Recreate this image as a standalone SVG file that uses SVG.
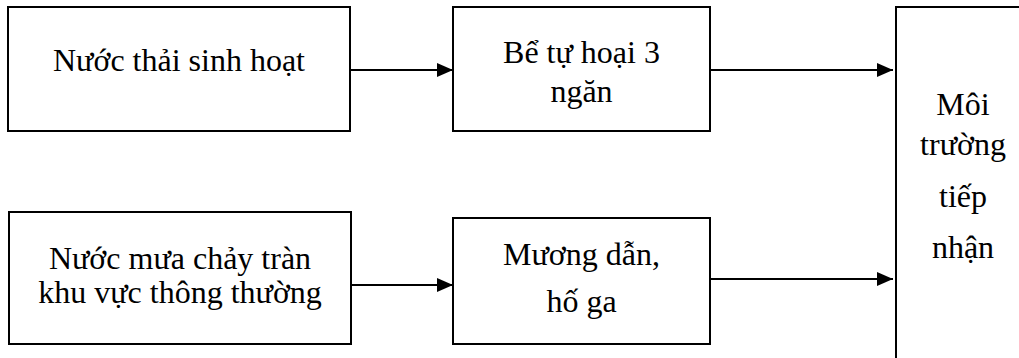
<svg xmlns="http://www.w3.org/2000/svg" width="1019" height="358" viewBox="0 0 1019 358">
  <style>
    .box { fill: #ffffff; stroke: #000000; stroke-width: 2; }
    .lbl { font-family: "Liberation Serif", "Times New Roman", serif; font-size: 32px; fill: #000000; text-anchor: middle; }
    .link { stroke: #000000; stroke-width: 2; fill: none; marker-end: url(#arrow); }
  </style>
  <defs>
    <marker id="arrow" markerUnits="userSpaceOnUse" markerWidth="16" markerHeight="14" refX="16" refY="7" orient="auto">
      <path d="M0,0 L16,7 L0,14 Z" fill="#000000"/>
    </marker>
  </defs>
  <rect width="1019" height="358" fill="#ffffff"/>

  <g id="nuoc-thai-sinh-hoat">
    <rect class="box" x="8" y="7" width="342" height="124"/>
    <text class="lbl" x="179" y="71">Nước thải sinh hoạt</text>
  </g>

  <g id="be-tu-hoai">
    <rect class="box" x="453" y="7" width="257" height="124"/>
    <text class="lbl" x="581.5" y="63">Bể tự hoại 3</text>
    <text class="lbl" x="581.5" y="102">ngăn</text>
  </g>

  <g id="nuoc-mua">
    <rect class="box" x="9" y="212" width="342" height="132"/>
    <text class="lbl" x="180" y="269">Nước mưa chảy tràn</text>
    <text class="lbl" x="180" y="303">khu vực thông thường</text>
  </g>

  <g id="muong-dan">
    <rect class="box" x="453" y="218" width="257" height="126"/>
    <text class="lbl" x="581.5" y="265">Mương dẫn,</text>
    <text class="lbl" x="581.5" y="312">hố ga</text>
  </g>

  <g id="moi-truong">
    <rect class="box" x="896" y="7" width="140" height="370"/>
    <text class="lbl" x="963" y="115">Môi</text>
    <text class="lbl" x="963" y="155">trường</text>
    <text class="lbl" x="963" y="207">tiếp</text>
    <text class="lbl" x="963" y="258">nhận</text>
  </g>

  <g id="connectors">
    <line class="link" x1="351" y1="70" x2="453" y2="70"/>
    <line class="link" x1="711" y1="70" x2="893" y2="70"/>
    <line class="link" x1="352" y1="285" x2="453" y2="285"/>
    <line class="link" x1="711" y1="279" x2="893" y2="279"/>
  </g>
</svg>
